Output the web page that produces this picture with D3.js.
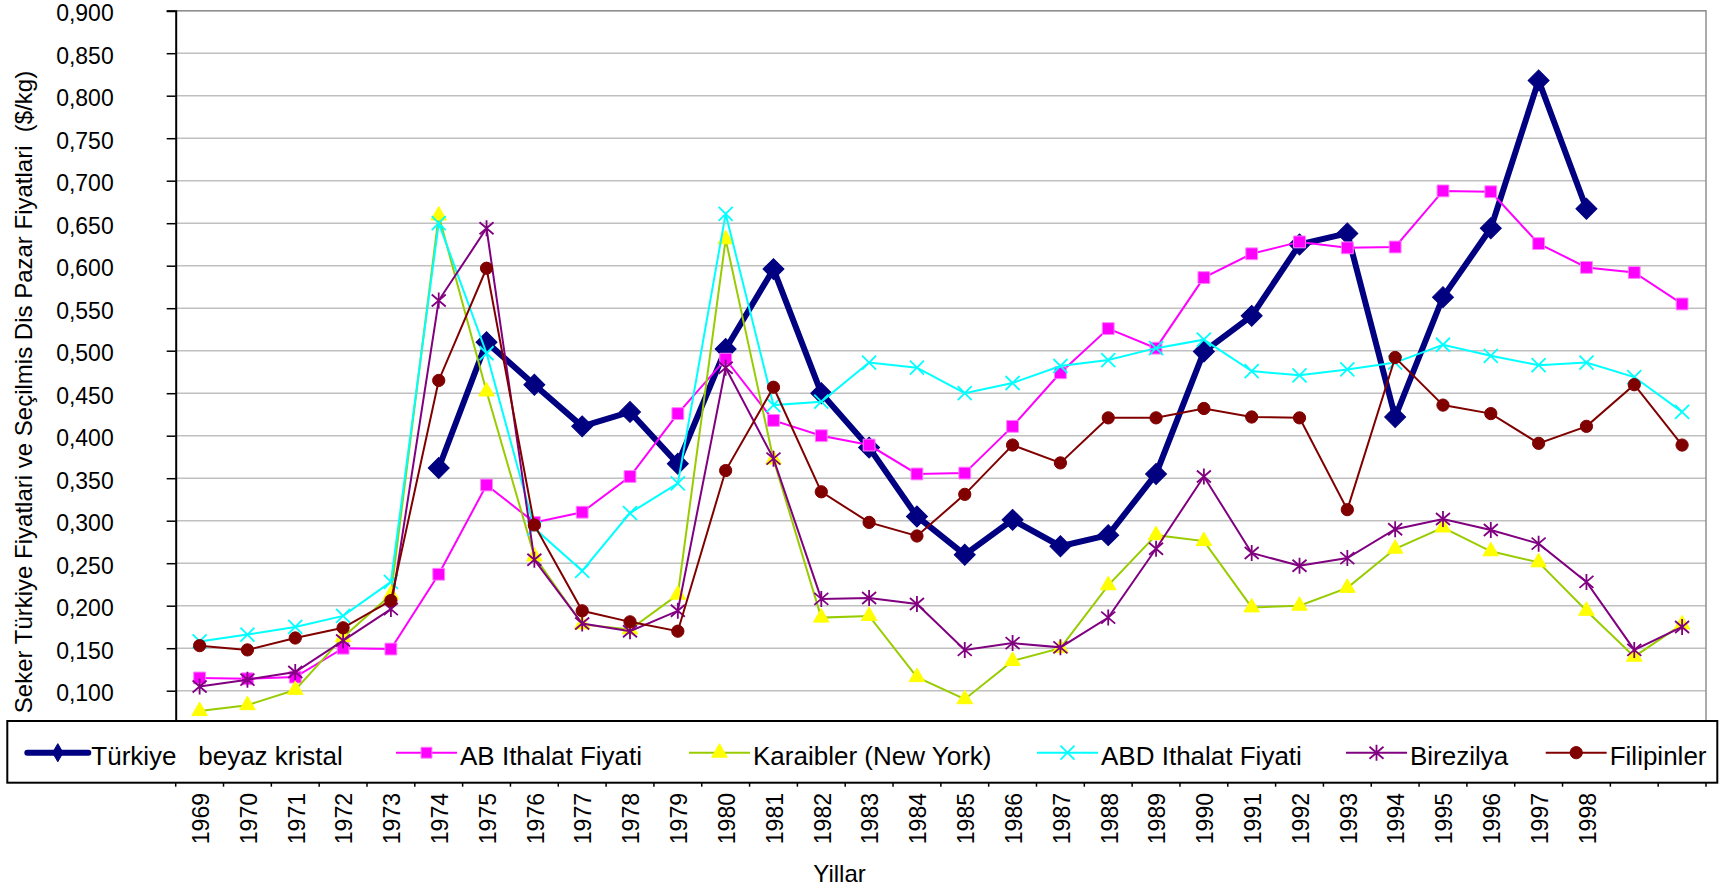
<!DOCTYPE html>
<html>
<head>
<meta charset="utf-8">
<script src="https://cdn.jsdelivr.net/npm/d3@7"></script>
<style>
body { margin: 0; background: #fff; }
text { font-family: "Liberation Sans", Arial, sans-serif; fill: #000; }
</style>
</head>
<body>
<div id="chart"></div>
<script>
// categories (last two have no label in the original)
var years = ["1969", "1970", "1971", "1972", "1973", "1974", "1975", "1976", "1977", "1978",
    "1979", "1980", "1981", "1982", "1983", "1984", "1985", "1986", "1987", "1988",
    "1989", "1990", "1991", "1992", "1993", "1994", "1995", "1996", "1997", "1998", "", ""];

var turkiye = [null, null, null, null, null, 0.362, 0.510, 0.460, 0.411, 0.428,
    0.367, 0.502, 0.596, 0.450, 0.386, 0.305, 0.260, 0.301, 0.270, 0.283,
    0.355, 0.499, 0.541, 0.625, 0.638, 0.422, 0.563, 0.644, 0.818, 0.667, null, null];

var abIthalat = [0.115, 0.114, 0.116, 0.150, 0.149, 0.237, 0.342, 0.298, 0.310, 0.352,
    0.426, 0.490, 0.418, 0.400, 0.389, 0.355, 0.356, 0.411, 0.474, 0.526,
    0.503, 0.586, 0.614, 0.628, 0.621, 0.622, 0.688, 0.687, 0.626, 0.598, 0.592, 0.555];

var karaibler = [0.076, 0.083, 0.101, 0.163, 0.213, 0.659, 0.452, 0.258, 0.178, 0.172,
    0.213, 0.631, 0.372, 0.186, 0.188, 0.116, 0.090, 0.135, 0.150, 0.224,
    0.283, 0.276, 0.198, 0.200, 0.221, 0.267, 0.292, 0.264, 0.251, 0.194, 0.140, 0.178];

var abdIthalat = [0.158, 0.166, 0.175, 0.188, 0.228, 0.650, 0.497, 0.291, 0.241, 0.309,
    0.344, 0.661, 0.436, 0.440, 0.486, 0.480, 0.450, 0.462, 0.482, 0.489,
    0.503, 0.513, 0.476, 0.471, 0.478, 0.486, 0.507, 0.494, 0.483, 0.486, 0.469, 0.428];

var birezilya = [0.105, 0.113, 0.122, 0.159, 0.196, 0.559, 0.644, 0.254, 0.179, 0.170,
    0.194, 0.480, 0.373, 0.208, 0.209, 0.202, 0.148, 0.156, 0.151, 0.186,
    0.267, 0.352, 0.262, 0.247, 0.256, 0.290, 0.302, 0.289, 0.273, 0.228, 0.148, 0.175];

var filipinler = [0.153, 0.148, 0.162, 0.174, 0.206, 0.465, 0.597, 0.295, 0.194, 0.181,
    0.170, 0.359, 0.457, 0.334, 0.298, 0.282, 0.331, 0.389, 0.368, 0.421,
    0.421, 0.432, 0.422, 0.421, 0.313, 0.492, 0.436, 0.426, 0.391, 0.411, 0.460, 0.389];

// the 0,050 and 0,000 ticks sit behind the legend box, so they are left out
var yTicks = [0.10, 0.15, 0.20, 0.25, 0.30, 0.35, 0.40, 0.45, 0.50,
    0.55, 0.60, 0.65, 0.70, 0.75, 0.80, 0.85, 0.90];

var series = [
    { name: "Türkiye   beyaz kristal", values: turkiye, line: "#000080", width: 6, marker: "diamond", fill: "#000080", stroke: "#000080" },
    { name: "AB Ithalat Fiyati", values: abIthalat, line: "#ff00ff", width: 2, marker: "square", fill: "#ff00ff", stroke: "#ff80ff" },
    { name: "Karaibler (New York)", values: karaibler, line: "#99cc00", width: 2, marker: "triangle", fill: "#ffff00", stroke: "#ffff00" },
    { name: "ABD Ithalat Fiyati", values: abdIthalat, line: "#00ffff", width: 2, marker: "x", fill: "none", stroke: "#00ffff" },
    { name: "Birezilya", values: birezilya, line: "#800080", width: 2, marker: "star", fill: "none", stroke: "#800080" },
    { name: "Filipinler", values: filipinler, line: "#800000", width: 2, marker: "circle", fill: "#800000", stroke: "#800000" }
];

var width = 1724,
    height = 892,
    plotLeft = 175.7,
    plotRight = 1706,
    plotTop = 10.7,
    plotBottom = 775.7,
    tickFont = 23,
    legendFont = 26,
    titleFont = 24;

// legend item start positions (line sample start)
var legendX = [27.3, 396, 689, 1037, 1346, 1545.7];

function markerPath(type, inLegend) {
    if (type === "diamond") return inLegend ? d3.symbol(d3.symbolDiamond, 95)() : d3.symbol(d3.symbolSquare, 220)();
    if (type === "square") return d3.symbol(d3.symbolSquare, inLegend ? 120 : 140)();
    if (type === "triangle") return d3.symbol(d3.symbolTriangle, 105)();
    if (type === "circle") return d3.symbol(d3.symbolCircle, 118)();
    if (type === "x") return "M-7,-7L7,7M-7,7L7,-7";
    if (type === "star") return "M-7,-6L7,6M-7,6L7,-6M0,-8L0,8";
    return "";
}

function markerTransform(type, px, py, inLegend) {
    return "translate(" + px + "," + py + ")" + (type === "diamond" && !inLegend ? " rotate(45)" : "");
}

var svg = d3.select("#chart").append("svg")
    .attr("width", width)
    .attr("height", height);

var x = d3.scaleBand()
    .domain(d3.range(years.length))
    .range([plotLeft, plotRight]);

var y = d3.scaleLinear()
    .domain([0, 0.9])
    .range([plotBottom, plotTop]);

var cx = function(i) { return x(i) + x.bandwidth() / 2; };

// gridlines
svg.append("g")
    .selectAll("line")
    .data(yTicks)
    .enter().append("line")
    .attr("x1", plotLeft)
    .attr("x2", plotRight)
    .attr("y1", function(d) { return y(d); })
    .attr("y2", function(d) { return y(d); })
    .style("stroke", "#c0c0c0")
    .style("stroke-width", 1.5);

// plot border (top / right)
svg.append("path")
    .attr("d", "M" + plotLeft + "," + plotTop + "H" + plotRight + "V" + plotBottom)
    .style("fill", "none")
    .style("stroke", "#909090")
    .style("stroke-width", 1.5);

// y axis
var yAxis = svg.append("g")
    .attr("transform", "translate(" + plotLeft + ",0)")
    .call(d3.axisLeft(y)
        .tickValues(yTicks)
        .tickSize(9)
        .tickPadding(53)
        .tickFormat(function(d) { return d3.format(".3f")(d).replace(".", ","); }));

yAxis.select(".domain").style("stroke", "#000").style("stroke-width", 2);
yAxis.selectAll(".tick line").style("stroke", "#000").style("stroke-width", 1.5);
yAxis.selectAll(".tick text")
    .attr("dy", "0.43em")
    .style("font-family", "'Liberation Sans', Arial, sans-serif")
    .style("font-size", tickFont + "px")
    .style("fill", "#000");

// x axis line and category boundary ticks
svg.append("line")
    .attr("x1", plotLeft).attr("x2", plotRight)
    .attr("y1", plotBottom).attr("y2", plotBottom)
    .style("stroke", "#000").style("stroke-width", 2);

svg.append("g")
    .selectAll("line")
    .data(d3.range(years.length + 1))
    .enter().append("line")
    .attr("x1", function(i) { return i < years.length ? x(i) : plotRight; })
    .attr("x2", function(i) { return i < years.length ? x(i) : plotRight; })
    .attr("y1", plotBottom)
    .attr("y2", plotBottom + 11)
    .style("stroke", "#000")
    .style("stroke-width", 1.5);

// series lines and markers
var line = d3.line()
    .defined(function(d) { return d != null; })
    .x(function(d, i) { return cx(i); })
    .y(function(d) { return y(d); });

series.forEach(function(s) {
    var g = svg.append("g");

    g.append("path")
        .datum(s.values)
        .attr("d", line)
        .style("fill", "none")
        .style("stroke", s.line)
        .style("stroke-width", s.width)
        .style("stroke-linejoin", "miter");

    g.selectAll("path.marker")
        .data(s.values.map(function(v, i) { return { v: v, i: i }; })
            .filter(function(d) { return d.v != null; }))
        .enter().append("path")
        .attr("class", "marker")
        .attr("d", markerPath(s.marker, false))
        .attr("transform", function(d) { return markerTransform(s.marker, cx(d.i), y(d.v), false); })
        .style("fill", s.fill)
        .style("stroke", s.stroke)
        .style("stroke-width", s.fill === "none" ? 1.8 : 1);
});

// legend
var legend = svg.append("g");

legend.append("rect")
    .attr("x", 7.3)
    .attr("y", 721)
    .attr("width", 1710)
    .attr("height", 61.7)
    .style("fill", "#fff")
    .style("stroke", "#000")
    .style("stroke-width", 2);

var item = legend.selectAll("g.item")
    .data(series)
    .enter().append("g")
    .attr("class", "item")
    .attr("transform", function(d, i) { return "translate(" + legendX[i] + ",752.7)"; });

item.append("line")
    .attr("x1", 0)
    .attr("x2", 61)
    .style("stroke", function(d) { return d.line; })
    .style("stroke-width", function(d) { return d.width; })
    .style("stroke-linecap", function(d) { return d.width > 3 ? "round" : "butt"; });

item.append("path")
    .attr("d", function(d) { return markerPath(d.marker, true); })
    .attr("transform", function(d) { return markerTransform(d.marker, 30.5, 0, true); })
    .style("fill", function(d) { return d.fill; })
    .style("stroke", function(d) { return d.stroke; })
    .style("stroke-width", function(d) { return d.fill === "none" ? 1.8 : 1; });

item.append("text")
    .attr("x", 64)
    .attr("y", 11.8)
    .style("font-size", legendFont + "px")
    .style("white-space", "pre")
    .text(function(d) { return d.name; });

// category labels (rotated)
svg.append("g")
    .selectAll("text")
    .data(years)
    .enter().append("text")
    .attr("transform", function(d, i) { return "translate(" + (cx(i) + 1) + ",793) rotate(-90)"; })
    .attr("text-anchor", "end")
    .attr("dy", "0.36em")
    .style("font-size", tickFont + "px")
    .text(function(d) { return d; });

// axis titles
svg.append("text")
    .attr("transform", "translate(23,392) rotate(-90)")
    .attr("text-anchor", "middle")
    .attr("dy", "0.36em")
    .style("font-size", titleFont + "px")
    .style("white-space", "pre")
    .text("Seker Türkiye Fiyatlari ve Seçilmis Dis Pazar Fiyatlari  ($/kg)");

svg.append("text")
    .attr("x", 839.5)
    .attr("y", 882)
    .attr("text-anchor", "middle")
    .style("font-size", titleFont + "px")
    .text("Yillar");
</script>
</body>
</html>
